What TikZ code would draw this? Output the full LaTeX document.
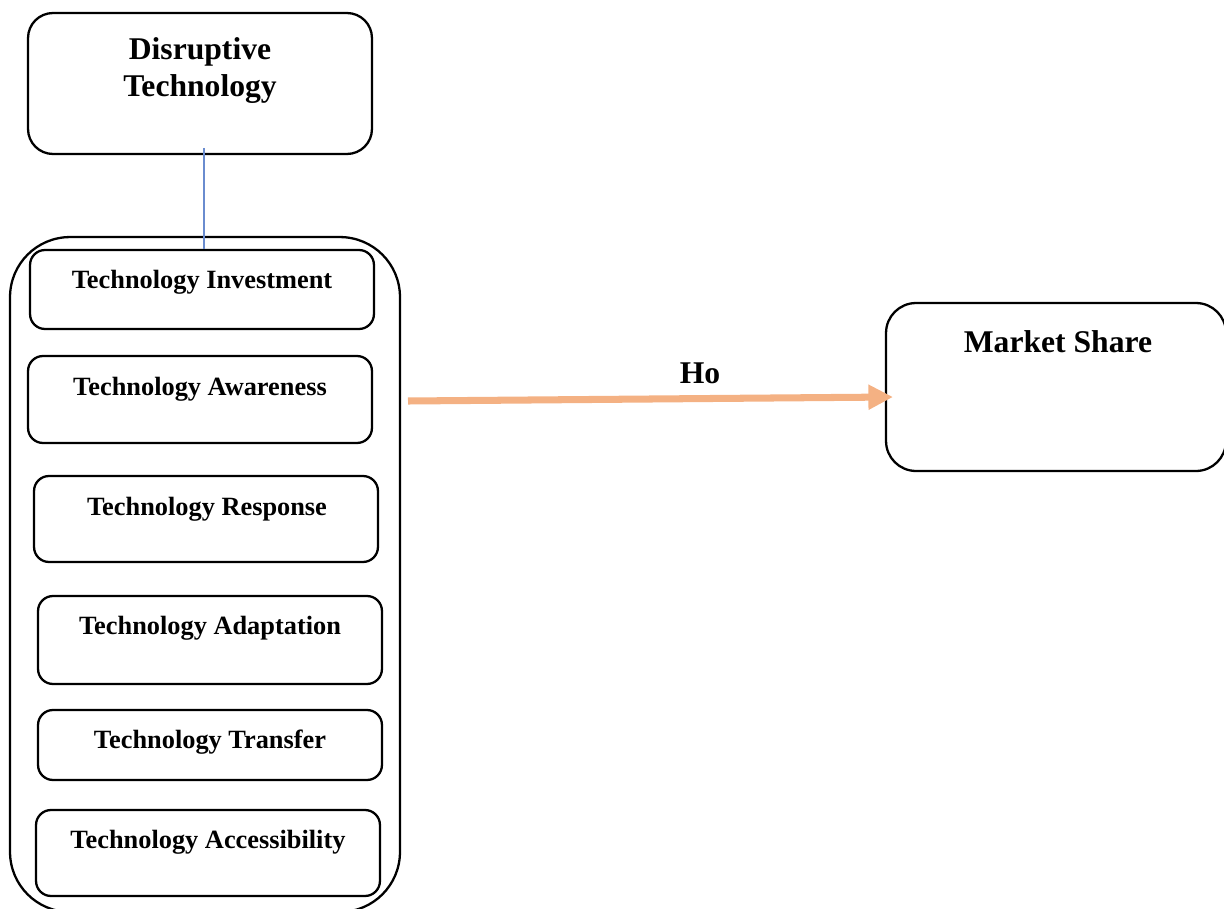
\documentclass[tikz,border=0pt]{standalone}
\usepackage{fontspec}
\setmainfont{Liberation Serif}
\usetikzlibrary{arrows.meta}
\definecolor{linkblue}{HTML}{6A8CCF}
\definecolor{peach}{HTML}{F4B183}
\begin{document}
\begin{tikzpicture}[x=0.02cm,y=-0.02cm,
  rbox/.style={draw=black, line width=1.3pt, inner sep=0pt, fill=none},
  big/.style={font=\fontsize{18}{21}\selectfont\bfseries, anchor=base, align=center, inner sep=0pt},
  small/.style={font=\fontsize{15}{18}\selectfont\bfseries, anchor=base, inner sep=0pt}]
\useasboundingbox (0,0) rectangle (1224,909);

% top concept box
\node[rbox, rounded corners=0.5cm, minimum width=6.88cm, minimum height=2.82cm] (dis) at (200,83.5) {};
\node[big] (distxt) at (200,60) {Disruptive};
\node[big] (distxt2) at (200,97) {Technology};

% container of the dimensions
\node[rbox, rounded corners=1.2cm, minimum width=7.8cm, minimum height=13.5cm] (outer) at (205,574.5) {};

% dimension boxes
\node[rbox, rounded corners=0.3cm, minimum width=6.88cm, minimum height=1.58cm] (inv) at (202,289.5) {};
\node[small] at (202,288) {Technology Investment};
\node[rbox, rounded corners=0.3cm, minimum width=6.88cm, minimum height=1.74cm] (awa) at (200,399.5) {};
\node[small] at (200,395) {Technology Awareness};
\node[rbox, rounded corners=0.3cm, minimum width=6.88cm, minimum height=1.72cm] (res) at (206,519) {};
\node[small] at (207,515) {Technology Response};
\node[rbox, rounded corners=0.3cm, minimum width=6.88cm, minimum height=1.76cm] (ada) at (210,640) {};
\node[small] at (210,634) {Technology Adaptation};
\node[rbox, rounded corners=0.3cm, minimum width=6.88cm, minimum height=1.40cm] (tra) at (210,745) {};
\node[small] at (210,748) {Technology Transfer};
\node[rbox, rounded corners=0.3cm, minimum width=6.88cm, minimum height=1.72cm] (acc) at (208,853) {};
\node[small] at (208,848) {Technology Accessibility};

% outcome box
\node[rbox, rounded corners=0.6cm, minimum width=6.8cm, minimum height=3.36cm] (mkt) at (1056,387) {};
\node[big] at (1058,352) {Market Share};

% link between the concept and its dimensions
\coordinate (c1) at (204,148);
\draw[linkblue, line width=0.8pt] (c1) -- (c1 |- inv.north);

% hypothesis arrow
\coordinate (a1) at (408,401);
\coordinate (a2) at (893,397);
\draw[peach, line width=4pt, -{Triangle[length=14pt,width=13.5pt]}] (a1) -- (a2);
\node[big] (ho) at (700,383) {Ho};
\end{tikzpicture}
\end{document}
